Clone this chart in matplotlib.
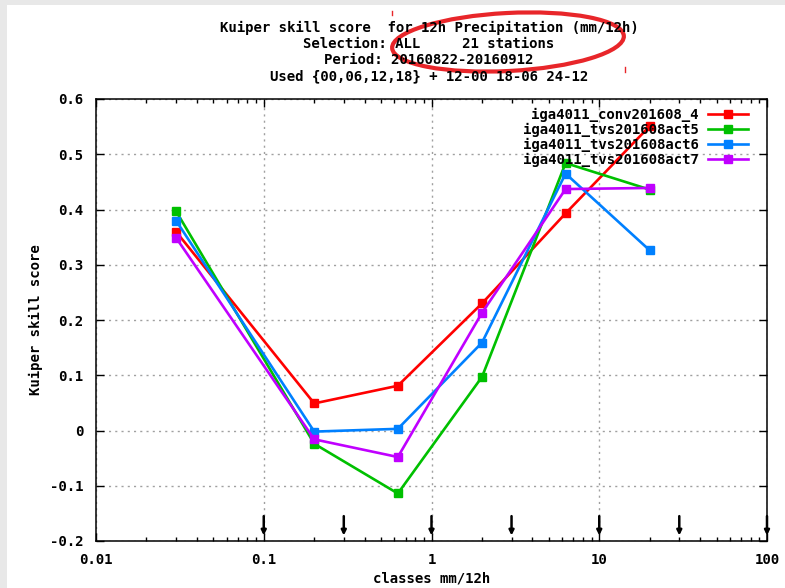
import matplotlib
matplotlib.use("Agg")
import matplotlib.pyplot as plt
from matplotlib.patches import Rectangle, Ellipse
from matplotlib.ticker import LogLocator, FixedLocator, NullFormatter, FixedFormatter

# ---- data ----
x_classes = [0.03, 0.2, 0.63, 2.0, 6.3, 20.0]
conv4 = [0.360, 0.049, 0.081, 0.230, 0.393, 0.551]
act5 = [0.397, -0.024, -0.114, 0.097, 0.484, 0.436]
act6 = [0.380, -0.002, 0.003, 0.159, 0.465, 0.326]
act7 = [0.349, -0.016, -0.048, 0.213, 0.437, 0.439]
series_names = ["iga4011_conv201608_4", "iga4011_tvs201608act5",
                "iga4011_tvs201608act6", "iga4011_tvs201608act7"]
series_colors = ["#ff0000", "#00c000", "#0080ff", "#c000ff"]
thresholds = [0.1, 0.3, 1, 3, 10, 30, 100]
xtick_vals = [0.01, 0.1, 1, 10, 100]
xtick_labels = ["0.01", "0.1", "1", "10", "100"]
ytick_vals = [-0.2, -0.1, 0, 0.1, 0.2, 0.3, 0.4, 0.5, 0.6]
ytick_labels = ["-0.2", "-0.1", "0", "0.1", "0.2", "0.3", "0.4", "0.5", "0.6"]
title_lines = ["Kuiper skill score  for 12h Precipitation (mm/12h)",
               "Selection: ALL     21 stations",
               "Period: 20160822-20160912",
               "Used {00,06,12,18} + 12-00 18-06 24-12"]

W, H = 785, 588
FONT = dict(family="DejaVu Sans Mono", weight="bold", size=10.1)

fig = plt.figure(figsize=(W / 100, H / 100), dpi=100)
fig.patch.set_facecolor("#e8e8e8")
bg = Rectangle((7 / W, 0), 1 - 7 / W, 1 - 5 / H, transform=fig.transFigure,
               facecolor="white", edgecolor="none", zorder=-10)
fig.add_artist(bg)

ax = fig.add_axes([96 / W, 1 - 541 / H, (767 - 96) / W, (541 - 99) / H])
ax.set_zorder(1)
ax.set_facecolor("white")
ax.set_xscale("log")
ax.set_xlim(0.01, 100)
ax.set_ylim(-0.2, 0.6)

for vals, name, col in zip([conv4, act5, act6, act7], series_names, series_colors):
    ax.plot(x_classes, vals, color=col, lw=1.9, marker="s", ms=5.5,
            mec=col, mfc=col, label=name, zorder=3)

for t in thresholds:
    ax.annotate("", xy=(t, -0.19), xytext=(t, -0.155),
                arrowprops=dict(arrowstyle="-|>", color="black", lw=1.8,
                                mutation_scale=7, shrinkA=0, shrinkB=0),
                zorder=4, annotation_clip=False)

ax.xaxis.set_major_locator(FixedLocator(xtick_vals))
ax.xaxis.set_major_formatter(FixedFormatter(xtick_labels))
ax.xaxis.set_minor_locator(LogLocator(base=10, subs=range(2, 10)))
ax.xaxis.set_minor_formatter(NullFormatter())
ax.yaxis.set_major_locator(FixedLocator(ytick_vals))
ax.yaxis.set_major_formatter(FixedFormatter(ytick_labels))

ax.tick_params(which="both", direction="in", top=True, right=True, color="black")
ax.tick_params(which="major", length=6, width=1, pad=9)
ax.tick_params(which="minor", length=3, width=1)
for lab in ax.get_xticklabels() + ax.get_yticklabels():
    lab.set_fontproperties(FONT)
for s in ax.spines.values():
    s.set_linewidth(1.1)

ax.grid(True, which="major", color="#a0a0a0", linestyle=(0, (1.5, 3)), lw=1)

ax.set_xlabel("classes mm/12h", fontdict=FONT, labelpad=3)
ax.set_ylabel("Kuiper skill score", fontdict=FONT, labelpad=5)

leg = ax.legend(loc="upper right", bbox_to_anchor=(1 - 11 / 671, 1.0),
                markerfirst=False, frameon=False,
                prop=FONT, handlelength=2.8, handletextpad=0.7,
                labelspacing=0.08, borderaxespad=0.3, borderpad=0.3)
for t in leg.get_texts():
    t.set_ha("right")

for i, line in enumerate(title_lines):
    fig.text(429 / W, 1 - (28 + 16 * i) / H, line, ha="center", va="center",
             fontdict=FONT)

# overlay annotation (red ellipse)
ov = fig.add_axes([0, 0, 1, 1], facecolor="none")
ov.set_zorder(2)
ov.set_xlim(0, W)
ov.set_ylim(H, 0)
ov.axis("off")
ov.add_patch(Ellipse((508, 42), 232, 58, angle=-3, fill=False,
                     edgecolor="#e8262a", lw=3))
ov.plot([392, 392], [11, 15], color="#e8262a", lw=1)
ov.plot([625, 625], [67, 72], color="#e8262a", lw=1)

fig.savefig("out.png", dpi=100)
